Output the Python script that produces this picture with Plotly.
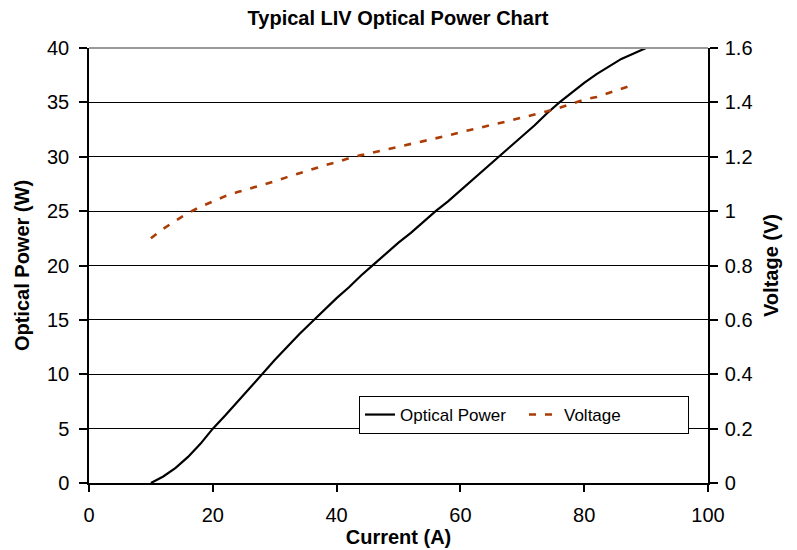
import plotly.graph_objects as go

current = [10, 12, 14, 16, 18, 20, 22, 24, 26, 28, 30, 32, 34, 36, 38, 40, 42, 44, 46, 48, 50,
           52, 54, 56, 58, 60, 62, 64, 66, 68, 70, 72, 74, 76, 78, 80, 82, 84, 86, 88, 90]
optical_power = [0.0, 0.6, 1.4, 2.4, 3.6, 5.0, 6.2, 7.5, 8.8, 10.1, 11.3, 12.5, 13.7, 14.8, 15.9,
                 17.0, 18.0, 19.1, 20.1, 21.1, 22.1, 23.0, 24.0, 25.0, 25.9, 26.9, 27.9, 28.9,
                 29.9, 30.9, 31.9, 32.9, 34.0, 35.0, 35.9, 36.8, 37.6, 38.3, 39.0, 39.5, 40.0]
voltage_current = [10, 12, 14, 16, 18, 20, 22, 24, 26, 28, 30, 32, 34, 36, 38, 40, 42, 44, 46, 48, 50,
                   52, 54, 56, 58, 60, 62, 64, 66, 68, 70, 72, 74, 76, 78, 80, 82, 84, 86, 88]
voltage = [0.90, 0.935, 0.965, 0.993, 1.016, 1.037, 1.055, 1.07, 1.083, 1.096, 1.11, 1.125, 1.14, 1.155,
           1.168, 1.18, 1.195, 1.206, 1.216, 1.226, 1.236, 1.246, 1.256, 1.266, 1.278, 1.29, 1.30,
           1.31, 1.322, 1.333, 1.344, 1.355, 1.367, 1.38, 1.395, 1.41, 1.42, 1.435, 1.45, 1.465]

x_ticks = [0, 20, 40, 60, 80, 100]
y_ticks = [0, 5, 10, 15, 20, 25, 30, 35, 40]
y2_ticks = [0, 0.2, 0.4, 0.6, 0.8, 1, 1.2, 1.4, 1.6]

FONT = "Liberation Sans, Arial, sans-serif"

fig = go.Figure()
fig.add_trace(go.Scatter(x=current, y=optical_power, mode="lines", name="Optical Power",
                         line=dict(color="black", width=2.2)))
fig.add_trace(go.Scatter(x=voltage_current, y=voltage, mode="lines", name="Voltage", yaxis="y2",
                         line=dict(color="#AC3C06", width=2.6, dash="7px,9px")))

fig.update_layout(
    width=797, height=550,
    margin=dict(l=89, r=89, t=48, b=67, autoexpand=False),
    paper_bgcolor="white", plot_bgcolor="white",
    font=dict(family=FONT, color="black"),
    title=dict(text="<b>Typical LIV Optical Power Chart</b>", x=398 / 797, xanchor="center",
               y=1 - 18 / 550, yanchor="middle", font=dict(size=20, color="black")),
    xaxis=dict(range=[0, 100], tickvals=x_ticks, showgrid=False, zeroline=False,
               showline=True, linecolor="black", linewidth=1.5, automargin=False,
               ticks="outside", ticklen=7, tickcolor="black", tickwidth=1.5,
               tickfont=dict(size=20), ticklabelstandoff=6,
               title=dict(text="<b>Current (A)</b>", font=dict(size=20), standoff=2)),
    yaxis=dict(range=[0, 40], tickvals=y_ticks, showgrid=True, gridcolor="black", gridwidth=1,
               zeroline=False, showline=True, linecolor="black", linewidth=1.5, automargin=False,
               ticks="outside", ticklen=8, tickcolor="black", tickwidth=1.5,
               tickfont=dict(size=20), ticklabelstandoff=6,
               title=dict(text="<b>Optical Power (W)</b>", font=dict(size=20), standoff=12)),
    yaxis2=dict(range=[0, 1.6], tickvals=y2_ticks, overlaying="y", side="right",
                showgrid=False, zeroline=False, showline=True, linecolor="black", linewidth=1.5,
                automargin=False,
                ticks="outside", ticklen=8, tickcolor="black", tickwidth=1.5,
                tickfont=dict(size=20), ticklabelstandoff=3,
                title=dict(text="<b>Voltage (V)</b>", font=dict(size=20), standoff=12)),
    legend=dict(orientation="h", x=(359 - 89) / 619, y=(483 - 396) / 435, xanchor="left", yanchor="top",
                bordercolor="black", borderwidth=1, bgcolor="white",
                font=dict(size=17), entrywidth=119),
    showlegend=True,
    shapes=[dict(type="line", xref="paper", yref="paper", x0=0, x1=1, y0=1, y1=1,
                 line=dict(color="#999999", width=2))],
)

fig.write_html("out.html", config={"displayModeBar": False},
               post_script="document.body.style.margin='0';")
